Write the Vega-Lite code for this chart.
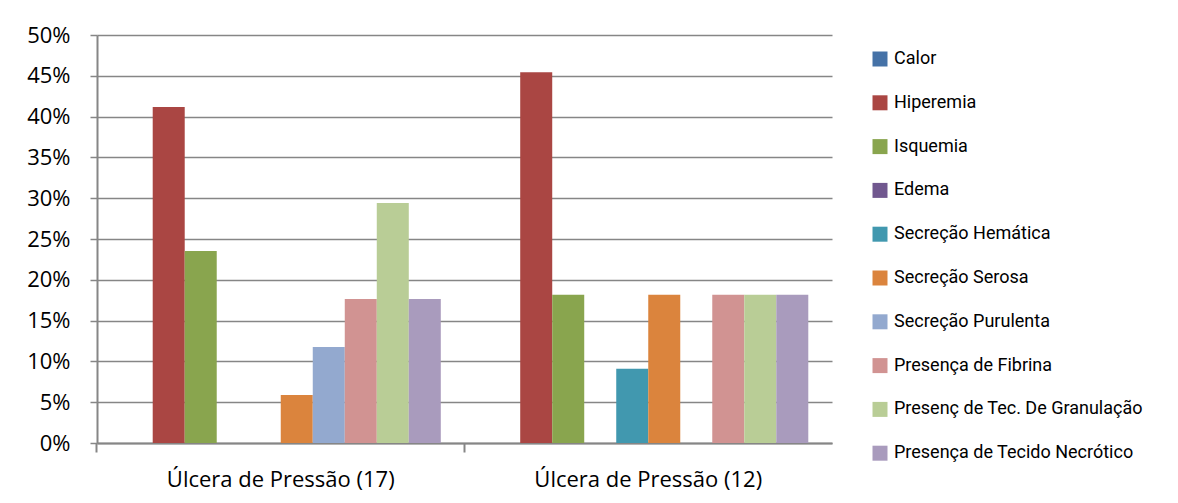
{
  "$schema": "https://vega.github.io/schema/vega-lite/v6.json",
  "width": 735,
  "height": 408,
  "autosize": {"type": "none"},
  "padding": {"left": 97, "top": 35, "right": 346, "bottom": 60},
  "background": "white",
  "data": {
    "values": [
      {"grupo": "Úlcera de Pressão (17)", "serie": "Calor", "valor": 0},
      {"grupo": "Úlcera de Pressão (17)", "serie": "Hiperemia", "valor": 0.4118},
      {"grupo": "Úlcera de Pressão (17)", "serie": "Isquemia", "valor": 0.2353},
      {"grupo": "Úlcera de Pressão (17)", "serie": "Edema", "valor": 0},
      {"grupo": "Úlcera de Pressão (17)", "serie": "Secreção Hemática", "valor": 0},
      {"grupo": "Úlcera de Pressão (17)", "serie": "Secreção Serosa", "valor": 0.0588},
      {"grupo": "Úlcera de Pressão (17)", "serie": "Secreção Purulenta", "valor": 0.1176},
      {"grupo": "Úlcera de Pressão (17)", "serie": "Presença de Fibrina", "valor": 0.1765},
      {"grupo": "Úlcera de Pressão (17)", "serie": "Presenç de Tec. De Granulação", "valor": 0.2941},
      {"grupo": "Úlcera de Pressão (17)", "serie": "Presença de Tecido Necrótico", "valor": 0.1765},
      {"grupo": "Úlcera de Pressão (12)", "serie": "Calor", "valor": 0},
      {"grupo": "Úlcera de Pressão (12)", "serie": "Hiperemia", "valor": 0.4545},
      {"grupo": "Úlcera de Pressão (12)", "serie": "Isquemia", "valor": 0.1818},
      {"grupo": "Úlcera de Pressão (12)", "serie": "Edema", "valor": 0},
      {"grupo": "Úlcera de Pressão (12)", "serie": "Secreção Hemática", "valor": 0.0909},
      {"grupo": "Úlcera de Pressão (12)", "serie": "Secreção Serosa", "valor": 0.1818},
      {"grupo": "Úlcera de Pressão (12)", "serie": "Secreção Purulenta", "valor": 0},
      {"grupo": "Úlcera de Pressão (12)", "serie": "Presença de Fibrina", "valor": 0.1818},
      {"grupo": "Úlcera de Pressão (12)", "serie": "Presenç de Tec. De Granulação", "valor": 0.1818},
      {"grupo": "Úlcera de Pressão (12)", "serie": "Presença de Tecido Necrótico", "valor": 0.1818}
    ]
  },
  "mark": {"type": "bar"},
  "encoding": {
    "x": {
      "field": "grupo",
      "type": "nominal",
      "sort": ["Úlcera de Pressão (17)", "Úlcera de Pressão (12)"],
      "scale": {"paddingInner": 0.129, "paddingOuter": 0.0645},
      "axis": {
        "title": null,
        "labelAngle": 0,
        "bandPosition": -0.0742,
        "tickSize": 9,
        "tickColor": "#868686",
        "tickWidth": 2,
        "domainColor": "#868686",
        "domainWidth": 2,
        "labelPadding": 17,
        "labelFontSize": 22,
        "labelFont": "Open Sans",
        "labelColor": "#000000",
        "labelLimit": 400
      }
    },
    "xOffset": {
      "field": "serie",
      "type": "nominal",
      "sort": ["Calor", "Hiperemia", "Isquemia", "Edema", "Secreção Hemática", "Secreção Serosa", "Secreção Purulenta", "Presença de Fibrina", "Presenç de Tec. De Granulação", "Presença de Tecido Necrótico"],
      "scale": {"paddingInner": 0, "paddingOuter": 0}
    },
    "y": {
      "field": "valor",
      "type": "quantitative",
      "scale": {"domain": [0, 0.5]},
      "axis": {
        "title": null,
        "format": ".0%",
        "values": [0, 0.05, 0.1, 0.15, 0.2, 0.25, 0.3, 0.35, 0.4, 0.45, 0.5],
        "grid": true,
        "gridColor": "#868686",
        "gridWidth": 1.5,
        "tickSize": 7,
        "tickColor": "#868686",
        "tickWidth": 1.5,
        "domainColor": "#868686",
        "domainWidth": 2,
        "labelPadding": 20,
        "labelFontSize": 22,
        "labelFont": "Open Sans",
        "labelColor": "#000000"
      }
    },
    "color": {
      "field": "serie",
      "type": "nominal",
      "sort": ["Calor", "Hiperemia", "Isquemia", "Edema", "Secreção Hemática", "Secreção Serosa", "Secreção Purulenta", "Presença de Fibrina", "Presenç de Tec. De Granulação", "Presença de Tecido Necrótico"],
      "scale": {
        "domain": ["Calor", "Hiperemia", "Isquemia", "Edema", "Secreção Hemática", "Secreção Serosa", "Secreção Purulenta", "Presença de Fibrina", "Presenç de Tec. De Granulação", "Presença de Tecido Necrótico"],
        "range": ["#4572A7", "#AA4643", "#89A54E", "#71588F", "#4198AF", "#DB843D", "#93A9CF", "#D19392", "#B9CD96", "#A99BBD"]
      },
      "legend": {
        "title": null,
        "orient": "none",
        "legendX": 774,
        "legendY": 15,
        "symbolType": "square",
        "symbolSize": 225,
        "symbolStrokeWidth": 0,
        "symbolOpacity": 1,
        "labelFontSize": 18,
        "labelFont": "Roboto",
        "labelColor": "#000000",
        "labelOffset": 5,
        "rowPadding": 25.8,
        "labelLimit": 400
      }
    }
  },
  "config": {
    "view": {"stroke": null},
    "axis": {"gridDash": [], "ticks": true}
  }
}
